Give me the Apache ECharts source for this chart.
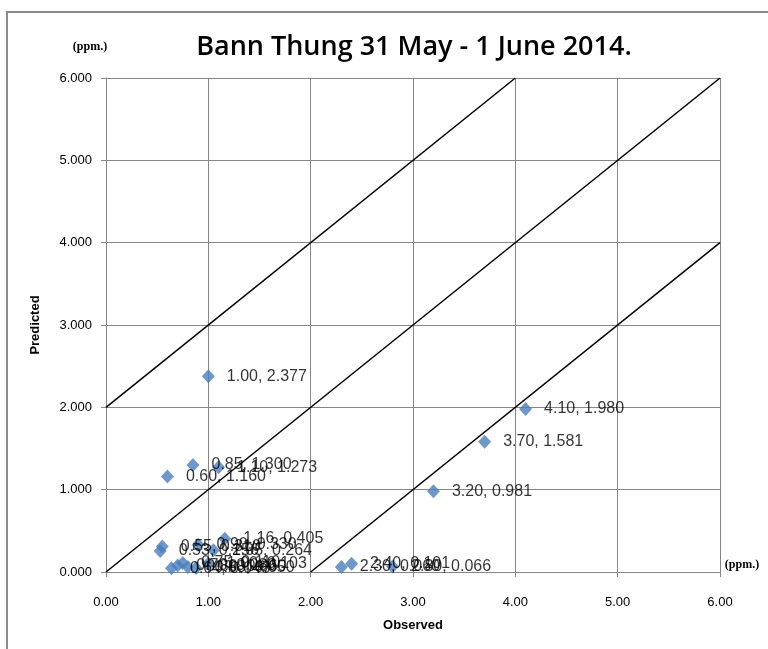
<!DOCTYPE html>
<html>
<head>
<meta charset="utf-8">
<script src="https://cdn.jsdelivr.net/npm/echarts@6/dist/echarts.min.js"></script>
<style>
  html, body { margin: 0; padding: 0; background: #fff; }
  #chart { width: 768px; height: 649px; }
</style>
</head>
<body>
<div id="chart"></div>
<script>
// Observed vs predicted concentrations (ppm.)
const observed = [1.00, 0.85, 1.10, 0.60, 4.10, 3.70, 3.20, 1.16,
                  0.53, 0.55, 0.90, 1.05, 0.64, 0.70, 0.75, 0.80, 0.88, 1.00,
                  2.30, 2.40, 2.80];
const predicted = [2.377, 1.300, 1.273, 1.160, 1.980, 1.581, 0.981, 0.405,
                   0.256, 0.310, 0.330, 0.264, 0.045, 0.080, 0.110, 0.060, 0.050, 0.103,
                   0.060, 0.101, 0.066];

// Reference lines: y = x + 2, y = x, y = x - 2
const upperLine = [[0, 2], [4, 6]];
const oneToOne = [[0, 0], [6, 6]];
const lowerLine = [[2, 0], [6, 4]];

const xTicks = [0, 1, 2, 3, 4, 5, 6];
const yTicks = [0, 1, 2, 3, 4, 5, 6];

const points = observed.map((x, i) => [x, predicted[i]]);

const chart = echarts.init(document.getElementById('chart'));
const axisGray = '#868686';
const labelFont = 'Liberation Sans, Arial, sans-serif';

function refLine(data) {
  return {
    type: 'line', data: data, symbol: 'none', silent: true,
    lineStyle: { color: '#000', width: 1.5 }, z: 1
  };
}

chart.setOption({
  animation: false,
  grid: { left: 106, right: 48, top: 78, bottom: 77 },
  xAxis: {
    type: 'value', min: xTicks[0], max: xTicks[xTicks.length - 1], interval: 1,
    name: 'Observed', nameLocation: 'middle', nameGap: 47,
    nameTextStyle: { fontFamily: labelFont, fontWeight: 'bold', fontSize: 13, color: '#000' },
    axisLine: { lineStyle: { color: axisGray } },
    axisTick: { show: true, length: 5, lineStyle: { color: axisGray } },
    axisLabel: { margin: 24, fontFamily: labelFont, fontSize: 13, color: '#000',
                 formatter: v => v.toFixed(2) },
    splitLine: { lineStyle: { color: axisGray, width: 1 } }
  },
  yAxis: {
    type: 'value', min: yTicks[0], max: yTicks[yTicks.length - 1], interval: 1,
    name: 'Predicted', nameLocation: 'middle', nameGap: 64, nameRotate: 90,
    nameTextStyle: { fontFamily: labelFont, fontWeight: 'bold', fontSize: 13, color: '#000' },
    axisLine: { show: true, lineStyle: { color: axisGray } },
    axisTick: { show: true, length: 5, lineStyle: { color: axisGray } },
    axisLabel: { margin: 14, fontFamily: labelFont, fontSize: 13, color: '#000',
                 formatter: v => v.toFixed(3) },
    splitLine: { lineStyle: { color: axisGray, width: 1 } }
  },
  series: [
    refLine(upperLine),
    refLine(oneToOne),
    refLine(lowerLine),
    {
      type: 'scatter',
      data: points,
      symbol: 'diamond',
      symbolSize: [13, 14],
      itemStyle: { color: '#4A7EBB' },
      z: 3,
      label: {
        show: true, position: 'right', distance: 12,
        fontFamily: labelFont, fontSize: 16, color: '#000',
        formatter: p => p.value[0].toFixed(2) + ', ' + p.value[1].toFixed(3)
      }
    }
  ],
  graphic: [
    { type: 'polyline', silent: true,
      shape: { points: [[7, 649], [7, 12], [768, 12]] },
      style: { stroke: '#8c8c8c', lineWidth: 2, fill: null } },
    { type: 'text', x: 0, y: 0,
      style: { text: 'Bann Thung 31 May - 1 June 2014.', x: 414, y: 47,
               textAlign: 'center', textVerticalAlign: 'middle',
               font: '600 27px "Open Sans", sans-serif', fill: '#000' } },
    { type: 'text', x: 0, y: 0,
      style: { text: '(ppm.)', x: 90, y: 47, textAlign: 'center', textVerticalAlign: 'middle',
               font: 'bold 12px "Liberation Serif", serif', fill: '#000' } },
    { type: 'text', x: 0, y: 0,
      style: { text: '(ppm.)', x: 742, y: 565, textAlign: 'center', textVerticalAlign: 'middle',
               font: 'bold 12px "Liberation Serif", serif', fill: '#000' } }
  ]
});
</script>
</body>
</html>
